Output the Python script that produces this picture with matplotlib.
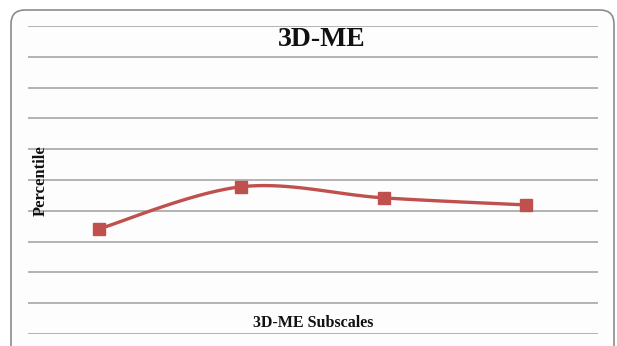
import numpy as np
import matplotlib
matplotlib.use("Agg")
import matplotlib.pyplot as plt
from matplotlib.patches import FancyBboxPatch

# Subscale percentiles
subscales = ["S1", "S2", "S3", "S4"]
percentiles = [34.1, 47.8, 44.2, 41.9]

y_min, y_max, y_step = 0, 100, 10
line_color = "#C0504D"

W, H, DPI = 617, 346, 100


def smooth_curve(xs, ys, n=40, tension=1 / 6):
    """Cardinal spline through the points (Bezier segments)."""
    xs = np.asarray(xs, float)
    ys = np.asarray(ys, float)
    px = np.concatenate([[xs[0]], xs, [xs[-1]]])
    py = np.concatenate([[ys[0]], ys, [ys[-1]]])
    out_x, out_y = [], []
    t = np.linspace(0, 1, n)
    for i in range(1, len(px) - 2):
        p0 = np.array([px[i], py[i]])
        p3 = np.array([px[i + 1], py[i + 1]])
        c1 = p0 + tension * (np.array([px[i + 1], py[i + 1]]) - np.array([px[i - 1], py[i - 1]]))
        c2 = p3 - tension * (np.array([px[i + 2], py[i + 2]]) - np.array([px[i], py[i]]))
        b = ((1 - t) ** 3)[:, None] * p0 + (3 * (1 - t) ** 2 * t)[:, None] * c1 \
            + (3 * (1 - t) * t ** 2)[:, None] * c2 + (t ** 3)[:, None] * p3
        out_x.extend(b[:, 0])
        out_y.extend(b[:, 1])
    return np.array(out_x), np.array(out_y)


fig = plt.figure(figsize=(W / DPI, H / DPI), dpi=DPI)
fig.patch.set_facecolor("white")

# Rounded chart border (coordinates in inches so corners stay circular)
left_px, right_px, top_px = 11, 614, 10
frame = FancyBboxPatch((left_px / DPI, -0.3), (right_px - left_px) / DPI,
                       (H - top_px) / DPI + 0.3,
                       boxstyle="round,pad=0,rounding_size=0.14",
                       transform=fig.dpi_scale_trans, facecolor="#FDFDFD",
                       edgecolor="#8C8C8C", linewidth=1.2, zorder=-10)
fig.patches.append(frame)

ax = fig.add_axes([27.5 / W, 1 - 334 / H, 570 / W, 308 / H])
ax.set_facecolor("none")
ax.set_xlim(-0.5, len(subscales) - 0.5)
ax.set_ylim(y_min, y_max)
ax.set_yticks(np.arange(y_min, y_max + y_step, y_step))
ax.yaxis.grid(True, color="#A6A6A6", linewidth=1.2)
ax.set_axisbelow(True)
ax.tick_params(left=False, bottom=False, labelleft=False, labelbottom=False)
for s in ax.spines.values():
    s.set_visible(False)

xs = np.arange(len(subscales))
cx, cy = smooth_curve(xs, percentiles)
ax.plot(cx, cy, color=line_color, linewidth=2.4, solid_capstyle="round", zorder=3)
ax.plot(xs, percentiles, linestyle="none", marker="s", markersize=8.8,
        color=line_color, markeredgecolor=line_color, zorder=4)

serif = ["Liberation Serif", "DejaVu Serif"]
fig.text(322 / W, 1 - 40 / H, "3D-ME", ha="center", va="center",
         fontsize=20, fontweight="bold", family=serif, color="#111111")
fig.text(313 / W, 1 - 323 / H, "3D-ME Subscales", ha="center", va="center",
         fontsize=11.5, fontweight="bold", family=serif, color="#111111")
fig.text(41 / W, 1 - 181 / H, "Percentile", ha="center", va="center",
         rotation=90, fontsize=12, fontweight="bold", family=serif, color="#111111")

fig.savefig("out.png", dpi=DPI)
